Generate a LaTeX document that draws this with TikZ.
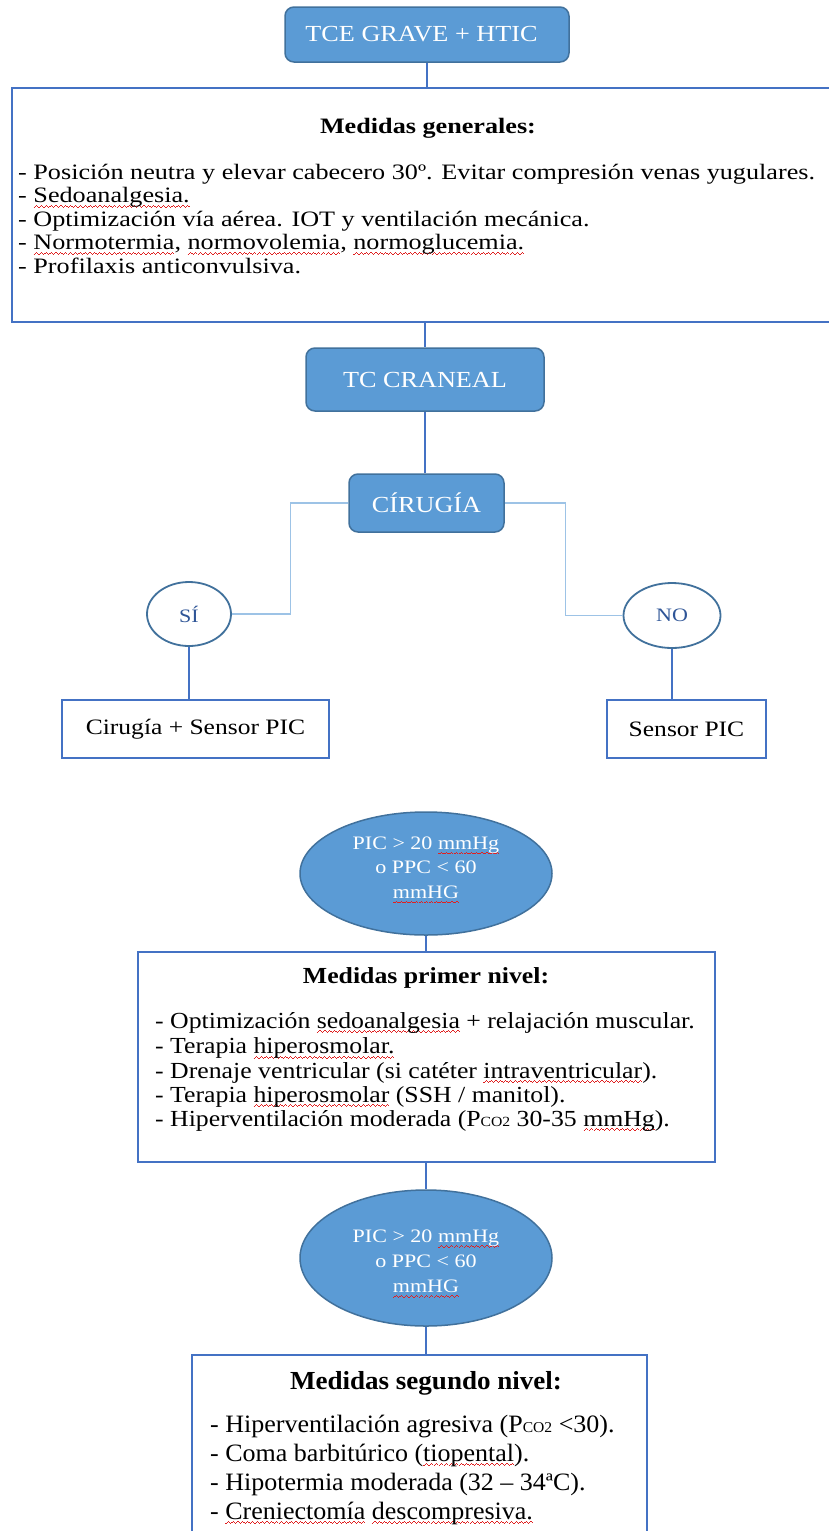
\documentclass[tikz,border=0pt]{standalone}
\usepackage{fontspec}
\setmainfont{Liberation Serif}
\newfontfamily\fA{Liberation Serif}[FakeStretch=1.19]
\newfontfamily\fB{Liberation Serif}[FakeStretch=1.14]
\newfontfamily\fC{Liberation Serif}[FakeStretch=1.16]
\newfontfamily\fD{Liberation Serif}[FakeStretch=1.12]
\newfontfamily\fE{Liberation Serif}[FakeStretch=1.04]
\usetikzlibrary{shapes.geometric}
\definecolor{fillblue}{HTML}{5B9BD5}
\definecolor{edgeblue}{HTML}{41719C}
\definecolor{lineblue}{HTML}{4472C4}
\definecolor{lightline}{HTML}{9DC3E6}
\definecolor{ovaltext}{HTML}{2F5597}
\definecolor{squig}{HTML}{E02020}
\newcommand{\fs}[1]{\fontsize{#1}{#1}\selectfont}
\newcommand{\pco}[1]{P{\fs{#1}CO2}}
\newcommand{\wav}{\hbox{\rule[0pt]{1.2pt}{1pt}\rule[0.8pt]{1.2pt}{1pt}\rule[1.6pt]{1.2pt}{1pt}\rule[0.8pt]{1.2pt}{1pt}}}
\newcommand{\sq}[1]{\setbox0\hbox{#1}\rlap{\lower5pt\hbox to\wd0{{\color{squig}\xleaders\wav\hfill}}}\box0\relax}
\begin{document}
\begin{tikzpicture}[x=1pt,y=-1pt,
  bluebox/.style={draw=edgeblue, line width=1.5pt, fill=fillblue, rounded corners=9pt,
    text=white, font=\fB\fs{23}, inner sep=0pt},
  whitebox/.style={draw=lineblue, line width=2pt, fill=white, inner sep=0pt},
  blueoval/.style={ellipse, draw=edgeblue, line width=1.5pt, fill=fillblue, inner sep=0pt},
  ovaltxt/.style={text=white, font=\fC\fs{19}, align=center, inner sep=0pt},
  whiteoval/.style={ellipse, draw=edgeblue, line width=1.8pt, fill=white, text=ovaltext,
    font=\fC\fs{19}, inner sep=0pt},
  link/.style={draw=lineblue, line width=1.5pt},
  thinlink/.style={draw=lightline, line width=1.2pt},
  titleA/.style={font=\fA\bfseries\fs{22}, inner sep=0pt, anchor=base},
  titleD/.style={font=\fD\bfseries\fs{23}, inner sep=0pt, anchor=base},
  titleE/.style={font=\fE\bfseries\fs{26}, inner sep=0pt, anchor=base},
  itemA/.style={font=\fA\fs{22}, inner sep=0pt, anchor=base west},
  itemD/.style={font=\fD\fs{23}, inner sep=0pt, anchor=base west},
  itemE/.style={font=\fE\fs{25}, inner sep=0pt, anchor=base west}
]
\useasboundingbox (0,0) rectangle (829,1531);

% top box
\node[bluebox, minimum width=284pt, minimum height=55pt] (top) at (427,34.5) {TCE GRAVE + HTIC\hspace*{11pt}};

% medidas generales
\node[whitebox, minimum width=822pt, minimum height=234pt] (gen) at (423,205) {};
\node[titleA] (gent) at (428,133) {Medidas generales:};
\node[itemA] (g1) at (18,179) {- Posición neutra y elevar cabecero 30º. Evitar compresión venas yugulares.};
\node[itemA] (g2) at (18,202.5) {- \sq{Sedoanalgesia.}};
\node[itemA] (g3) at (18,226) {- Optimización vía aérea. IOT y ventilación mecánica.};
\node[itemA] (g4) at (18,249.5) {- \sq{Normotermia}, \sq{normovolemia}, \sq{normoglucemia.}};
\node[itemA] (g5) at (18,273) {- Profilaxis anticonvulsiva.};

% TC craneal
\node[bluebox, minimum width=238pt, minimum height=63pt] (tc) at (425,379.5) {TC CRANEAL};
% cirugia
\node[bluebox, minimum width=155pt, minimum height=58pt] (cir) at (426.5,503) {CÍRUGÍA};

% SI / NO
\node[whiteoval, minimum width=84pt, minimum height=64pt] (si) at (189,614) {SÍ};
\node[whiteoval, minimum width=97pt, minimum height=65pt] (no) at (672,615.5) {NO};

\node[whitebox, minimum width=267pt, minimum height=58pt, font=\fC\fs{22}] (cirpic) at (195.5,729) {Cirugía + Sensor PIC};
\node[whitebox, minimum width=159pt, minimum height=58pt, font=\fC\fs{22}] (sens) at (686.5,729) {Sensor PIC};

% PIC ovals
\node[blueoval, minimum width=252pt, minimum height=123pt] (pic1) at (426,873.5) {};
\node[ovaltxt] (pic1t) at (426,870) {PIC > 20 \sq{mmHg}\\[5.5pt]o PPC < 60\\[5.5pt]\sq{mmHG}};

% primer nivel
\node[whitebox, minimum width=577pt, minimum height=210pt] (prim) at (426.5,1057) {};
\node[titleD] (primt) at (426,983) {Medidas primer nivel:};
\node[itemD] (p1) at (155,1028) {- Optimización \sq{sedoanalgesia} + relajación muscular.};
\node[itemD] (p2) at (155,1053.5) {- Terapia \sq{hiperosmolar.}};
\node[itemD] (p3) at (155,1078) {- Drenaje ventricular (si catéter \sq{intraventricular}).};
\node[itemD] (p4) at (155,1102) {- Terapia \sq{hiperosmolar} (SSH / manitol).};
\node[itemD] (p5) at (155,1126) {- Hiperventilación moderada (\pco{14} 30-35 \sq{mmHg}).};

\node[blueoval, minimum width=252pt, minimum height=136pt] (pic2) at (426,1258) {};
\node[ovaltxt] (pic2t) at (426,1264) {PIC > 20 \sq{mmHg}\\[6pt]o PPC < 60\\[6pt]\sq{mmHG}};

% segundo nivel
\node[whitebox, minimum width=455pt, minimum height=190pt] (seg) at (419.5,1450) {};
\node[titleE] (segt) at (426,1389) {Medidas segundo nivel:};
\node[itemE] (s1) at (210,1432) {- Hiperventilación agresiva (\pco{15} <30).};
\node[itemE] (s2) at (210,1461) {- Coma barbitúrico (\sq{tiopental}).};
\node[itemE] (s3) at (210,1490) {- Hipotermia moderada (32 – 34ªC).};
\node[itemE] (s4) at (210,1519) {- \sq{Creniectomía} \sq{descompresiva.}};

% connectors
\draw[link] (top.south) -- (top.south |- gen.north);
\draw[link] (tc.north |- gen.south) -- (tc.north);
\draw[link] (tc.south) -- (tc.south |- cir.north);
\draw[thinlink] (cir.west) -- ++(-58,0) |- (si.east);
\draw[thinlink] (cir.east) -- ++(61,0) |- (no.west);
\draw[link] (si.south) -- (si.south |- cirpic.north);
\draw[link] (no.south) -- (no.south |- sens.north);
\draw[link] (pic1.south) -- (pic1.south |- prim.north);
\draw[link] (pic2.north |- prim.south) -- (pic2.north);
\draw[link] (pic2.south) -- (pic2.south |- seg.north);
\end{tikzpicture}
\end{document}
